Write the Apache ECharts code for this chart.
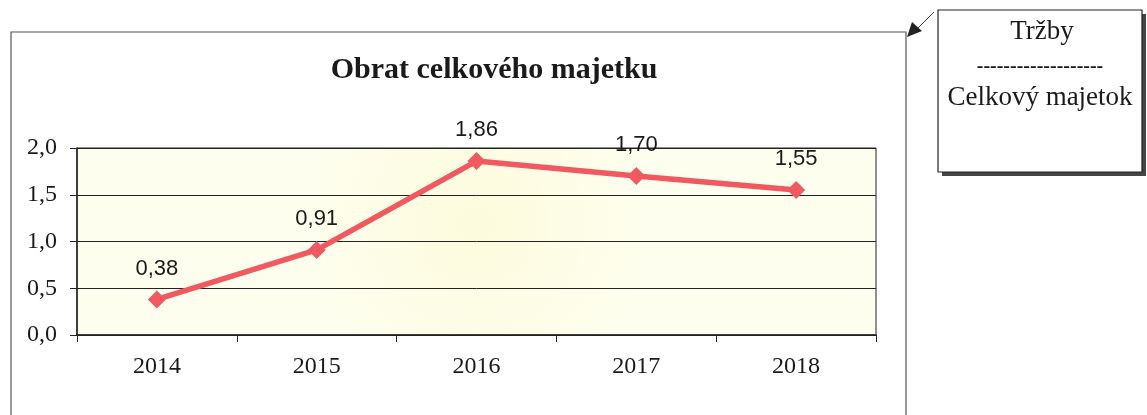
<!DOCTYPE html>
<html>
<head>
<meta charset="utf-8">
<script src="https://cdn.jsdelivr.net/npm/echarts@6/dist/echarts.min.js"></script>
<style>
  html, body { margin: 0; padding: 0; background: #fff; }
  #chart { width: 1147px; height: 415px; }
</style>
</head>
<body>
<div id="chart"></div>
<script type="text/javascript">
  // data
  const years = ['2014', '2015', '2016', '2017', '2018']
  const obrat = [0.38, 0.91, 1.86, 1.70, 1.55]
  const yTicks = [0, 0.5, 1.0, 1.5, 2.0]

  const titleText = 'Obrat celkového majetku'
  const noteTop = 'Tržby'
  const noteBottom = 'Celkový majetok'

  const serif = '"Liberation Serif", "Times New Roman", serif'
  const sans = '"Liberation Sans", Arial, sans-serif'
  const fmt = (v) => v.toFixed(2).replace('.', ',')

  const myChart = echarts.init(document.getElementById('chart'))
  const option = {
    animation: false,
    title: {
      text: titleText,
      left: 489,
      top: 50,
      textAlign: 'center',
      textStyle: {
        fontFamily: serif,
        fontWeight: 'bold',
        fontSize: 30,
        color: '#1a1a1a'
      }
    },
    grid: {
      left: 77,
      right: 271,
      top: 148,
      bottom: 80,
      show: true,
      borderColor: '#222',
      borderWidth: 1,
      backgroundColor: {
        type: 'radial',
        x: 0.5, y: 0.4, r: 0.9,
        colorStops: [
          { offset: 0, color: '#fcfbdc' },
          { offset: 1, color: '#fefeee' }
        ]
      }
    },
    xAxis: {
      type: 'category',
      data: years,
      boundaryGap: true,
      axisLine: { lineStyle: { color: '#222', width: 1.5 } },
      axisTick: { show: true, length: 7, lineStyle: { color: '#222' } },
      axisLabel: {
        fontFamily: serif,
        fontSize: 24,
        color: '#1a1a1a',
        margin: 20
      }
    },
    yAxis: {
      type: 'value',
      min: yTicks[0],
      max: yTicks[yTicks.length - 1],
      interval: 0.5,
      axisLine: { show: true, lineStyle: { color: '#222', width: 1.5 } },
      axisTick: { show: true, length: 7, lineStyle: { color: '#222' } },
      splitLine: { show: true, lineStyle: { color: '#222', width: 1 } },
      axisLabel: {
        fontFamily: serif,
        fontSize: 24,
        color: '#1a1a1a',
        margin: 20,
        formatter: (v) => v.toFixed(1).replace('.', ',')
      }
    },
    series: [{
      type: 'line',
      data: obrat,
      symbol: 'diamond',
      symbolSize: 18,
      itemStyle: { color: '#f0595f' },
      lineStyle: { color: '#f0595f', width: 5.5 },
      label: {
        show: true,
        position: 'top',
        distance: 11,
        fontFamily: sans,
        fontSize: 22,
        color: '#1a1a1a',
        formatter: (p) => fmt(p.value)
      }
    }],
    graphic: [
      // outer chart frame
      {
        type: 'rect',
        shape: { x: 11, y: 32, width: 895, height: 420 },
        style: { fill: null, stroke: '#555', lineWidth: 1.2 },
        silent: true
      },
      // note box shadow
      {
        type: 'rect',
        shape: { x: 942, y: 14, width: 204, height: 162 },
        style: { fill: '#444', stroke: null },
        silent: true
      },
      // note box
      {
        type: 'rect',
        shape: { x: 938, y: 10, width: 204, height: 162 },
        style: { fill: '#fff', stroke: '#222', lineWidth: 1.2 },
        silent: true
      },
      {
        type: 'text',
        x: 1042, y: 32,
        style: {
          text: noteTop,
          font: '27px ' + serif,
          fill: '#1a1a1a',
          align: 'center',
          verticalAlign: 'middle'
        },
        silent: true
      },
      {
        type: 'text',
        x: 1040, y: 67,
        style: {
          text: '-------------------',
          font: 'bold 20px ' + serif,
          fill: '#1a1a1a',
          align: 'center',
          verticalAlign: 'middle'
        },
        silent: true
      },
      {
        type: 'text',
        x: 1040, y: 98,
        style: {
          text: noteBottom,
          font: '27px ' + serif,
          fill: '#1a1a1a',
          align: 'center',
          verticalAlign: 'middle'
        },
        silent: true
      },
      // arrow from box to chart frame
      {
        type: 'line',
        shape: { x1: 934, y1: 12, x2: 918, y2: 28 },
        style: { stroke: '#444', lineWidth: 1 },
        silent: true
      },
      {
        type: 'polygon',
        shape: { points: [[907, 37], [912, 22], [922, 31]] },
        style: { fill: '#222' },
        silent: true
      }
    ]
  }
  myChart.setOption(option)
</script>
</body>
</html>
